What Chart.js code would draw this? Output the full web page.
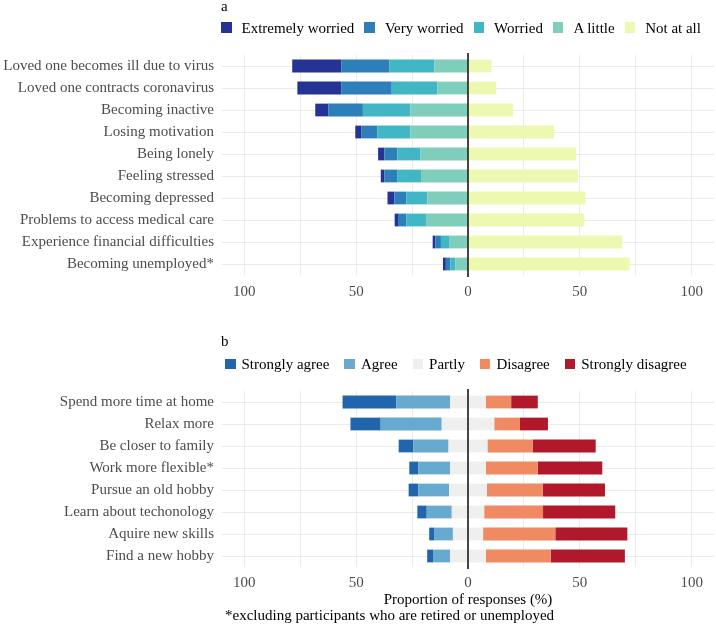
<!DOCTYPE html>
<html><head><meta charset="utf-8">
<script src="https://cdn.jsdelivr.net/npm/chart.js@4"></script>
<style>
html,body{margin:0;padding:0;background:#fff;}
body{width:716px;height:633px;position:relative;overflow:hidden;font-family:"Liberation Serif","Times New Roman",serif;font-size:15px;color:#000;}
canvas{position:absolute;left:0;}
.abs{position:absolute;line-height:18px;white-space:nowrap;}
.legend{position:absolute;display:flex;align-items:center;height:18px;line-height:18px;white-space:nowrap;}
.legend .item{display:flex;align-items:center;}
.legend .box{width:10.5px;height:10.5px;display:inline-block;flex:none;}
</style></head>
<body>
<canvas id="cA" width="716" height="310" style="top:0"></canvas>
<canvas id="cB" width="716" height="323" style="top:310px"></canvas>
<div class="abs" style="left:221px;top:-3px">a</div>
<div id="legA" class="legend" style="left:221px;top:18.5px"></div>
<div class="abs" style="left:221px;top:332px">b</div>
<div id="legB" class="legend" style="left:225px;top:355px"></div>
<div class="abs" style="left:225px;top:606px">*excluding participants who are retired or unemployed</div>
<script>
// ---------- DATA ----------
const catsA = ["Loved one becomes ill due to virus","Loved one contracts coronavirus","Becoming inactive","Losing motivation","Being lonely","Feeling stressed","Becoming depressed","Problems to access medical care","Experience financial difficulties","Becoming unemployed*"];
const extremelyWorried = [21.9,19.6,5.8,2.8,2.8,1.6,3.1,1.5,1.2,1.3];
const veryWorried      = [21.6,22.6,15.5,7.0,5.8,5.7,5.4,3.8,2.5,2.0];
const worried          = [20.1,20.4,21.2,14.8,10.4,10.7,9.3,8.7,3.9,2.2];
const aLittle          = [15.0,13.7,25.8,25.8,21.2,21.0,18.2,18.8,8.2,5.7];
const notAtAll         = [10.5,12.6,20.2,38.5,48.4,49.2,52.5,52.0,69.0,72.3];

const catsB = ["Spend more time at home","Relax more","Be closer to family","Work more flexible*","Pursue an old hobby","Learn about techonology","Aquire new skills","Find a new hobby"];
const stronglyAgree    = [24.0,13.5,6.6,4.0,4.3,4.2,2.4,2.6];
const agree            = [24.1,27.3,15.7,14.2,13.8,11.2,8.2,7.6];
const partly           = [16.0,23.5,17.4,16.1,16.9,14.5,13.5,16.1];
const disagree         = [11.3,11.5,20.2,23.2,25.0,26.3,32.3,28.9];
const stronglyDisagree = [11.9,12.5,28.2,28.8,27.8,32.3,32.2,33.2];

const xTicks = [-100,-75,-50,-25,0,25,50,75,100];

// ---------- STYLE ----------
const FONT = "'Liberation Serif','Times New Roman',serif";
const colA = {ext:'#253494', very:'#2c7fb8', wor:'#41b6c4', lit:'#7fcdbb', not:'#edf8b1'};
const colB = {sa:'#2166ac', a:'#67a9cf', p:'#efefef', d:'#ef8a62', sd:'#b2182b'};

function buildLegend(id, items, boxGap, itemGap){
  const el = document.getElementById(id);
  items.forEach((it,i)=>{
    const d = document.createElement('div'); d.className='item';
    if(i < items.length-1) d.style.marginRight = itemGap+'px';
    const b = document.createElement('span'); b.className='box'; b.style.background=it[1]; b.style.marginRight=boxGap+'px';
    const t = document.createElement('span'); t.textContent = it[0];
    d.appendChild(b); d.appendChild(t); el.appendChild(d);
  });
}
buildLegend('legA', [["Extremely worried",colA.ext],["Very worried",colA.very],["Worried",colA.wor],["A little",colA.lit],["Not at all",colA.not]], 10, 10);
buildLegend('legB', [["Strongly agree",colB.sa],["Agree",colB.a],["Partly",colB.p],["Disagree",colB.d],["Strongly disagree",colB.sd]], 6, 15);

const zeroLine = {
  id:'zeroLine',
  afterDatasetsDraw(chart){
    const {ctx, chartArea, scales} = chart;
    const x = scales.x.getPixelForValue(0);
    ctx.save();
    ctx.strokeStyle = '#1a1a1a'; ctx.lineWidth = 1.6;
    ctx.beginPath(); ctx.moveTo(x, chartArea.top-2); ctx.lineTo(x, chartArea.bottom+2); ctx.stroke();
    ctx.restore();
  }
};

function neg(a){ return a.map(v=>-v); }
function half(a, s){ return a.map(v=>s*v/2); }

function ds(label, data, color){
  return {label, data, backgroundColor: color, borderWidth: 0, barPercentage: 0.58, categoryPercentage: 1.0};
}

function makeChart(id, cats, datasets, cfg){
  return new Chart(document.getElementById(id), {
    type:'bar',
    data:{labels: cats, datasets},
    plugins:[zeroLine],
    options:{
      indexAxis:'y',
      responsive:false,
      animation:false,
      events:[],
      layout:{padding:{top:cfg.top, right:2, left:0, bottom:0}},
      plugins:{legend:{display:false}, tooltip:{enabled:false}},
      scales:{
        x:{
          stacked:true, min:-110, max:110,
          afterBuildTicks(axis){ axis.ticks = xTicks.map(v=>({value:v})); },
          afterFit(scale){ scale.height = cfg.xh; },
          grid:{color:'#ebebeb', lineWidth:1, drawTicks:false},
          border:{display:false},
          ticks:{padding:cfg.tp, color:'#4d4d4d', font:{family:FONT, size:15}, maxRotation:0,
                 callback:(v)=> (v % 50 === 0) ? String(Math.abs(v)) : ''},
          title: cfg.title ? {display:true, text:cfg.title, color:'#000', font:{family:FONT, size:15}, padding:{top:0,bottom:cfg.titlePad}} : {display:false}
        },
        y:{
          stacked:true,
          afterFit(scale){ scale.width = 222; },
          grid:{color:'#ebebeb', lineWidth:1, drawTicks:false, offset:false},
          border:{display:false},
          ticks:{padding:8, color:'#4d4d4d', font:{family:FONT, size:15}, autoSkip:false}
        }
      }
    }
  });
}

makeChart('cA', catsA, [
  ds('A little', neg(aLittle), colA.lit),
  ds('Worried', neg(worried), colA.wor),
  ds('Very worried', neg(veryWorried), colA.very),
  ds('Extremely worried', neg(extremelyWorried), colA.ext),
  ds('Not at all', notAtAll, colA.not)
], {top:55, xh:35, tp:8});

makeChart('cB', catsB, [
  ds('Partly', half(partly,-1), colB.p),
  ds('Agree', neg(agree), colB.a),
  ds('Strongly agree', neg(stronglyAgree), colB.sa),
  ds('Partly ', half(partly,1), colB.p),
  ds('Disagree', disagree, colB.d),
  ds('Strongly disagree', stronglyDisagree, colB.sd)
], {top:81, xh:66, tp:7, title:'Proportion of responses (%)', titlePad:24});
</script>
</body></html>
